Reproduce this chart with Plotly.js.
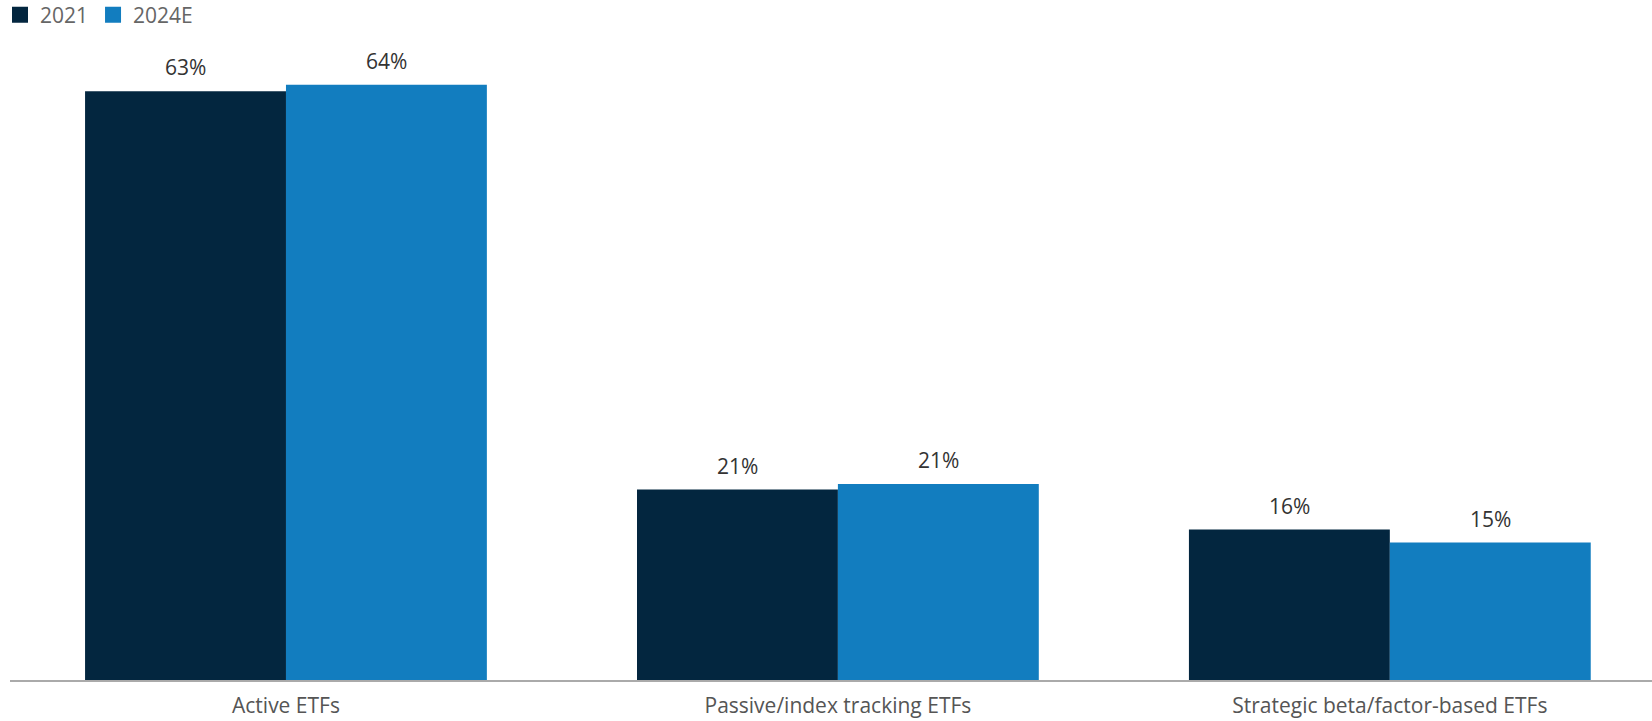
<!DOCTYPE html>
<html>
<head>
<meta charset="utf-8">
<script src="https://cdn.plot.ly/plotly-3.0.1.min.js"></script>
<style>
  html, body { margin: 0; padding: 0; background: #fff; }
  #chart { width: 1652px; height: 721px; }
</style>
</head>
<body>
<div id="chart"></div>
<script>
const categories = ["Active ETFs", "Passive/index tracking ETFs", "Strategic beta/factor-based ETFs"];
const series2021 = [63.4, 20.5, 16.2];
const series2024E = [64.1, 21.1, 14.8];
const seriesNames = ["2021", "2024E"];
const seriesColors = ["#03263f", "#127dbf"];

const allSeries = [series2021, series2024E];

const traces = [];
allSeries.forEach((vals, i) => {
  traces.push({
    type: "bar",
    name: seriesNames[i],
    x: categories,
    y: vals,
    marker: { color: seriesColors[i] },
    showlegend: false,
    hoverinfo: "skip"
  });
});
// legend entries (larger square swatches)
allSeries.forEach((vals, i) => {
  traces.push({
    type: "scatter",
    mode: "markers",
    name: seriesNames[i],
    x: [categories[0]],
    y: [null],
    marker: { color: seriesColors[i], symbol: "square", size: 16 },
    showlegend: true,
    hoverinfo: "skip"
  });
});

const BAR_OFFSET = 100.4;
const annotations = [];
allSeries.forEach((vals, i) => {
  vals.forEach((v, j) => {
    annotations.push({
      x: categories[j],
      y: v,
      xref: "x",
      yref: "y",
      xshift: i === 0 ? -BAR_OFFSET : BAR_OFFSET,
      yshift: 8,
      yanchor: "bottom",
      xanchor: "center",
      showarrow: false,
      text: Math.round(v) + "%",
      font: { family: "Open Sans", size: 21, color: "#333333" }
    });
  });
});

const layout = {
  width: 1652,
  height: 721,
  margin: { l: 10, r: 0, t: 48, b: 41, autoexpand: false },
  paper_bgcolor: "#ffffff",
  plot_bgcolor: "#ffffff",
  font: { family: "Open Sans", size: 21, color: "#555555" },
  barmode: "group",
  bargap: 0.272,
  bargroupgap: 0,
  showlegend: true,
  legend: {
    orientation: "h",
    x: 0, xref: "container", xanchor: "left",
    y: 1 + 33 / 632, yref: "paper", yanchor: "middle",
    font: { family: "Open Sans", size: 21, color: "#666666" },
    itemwidth: 30,
    bgcolor: "rgba(0,0,0,0)"
  },
  annotations: annotations,
  xaxis: {
    type: "category",
    range: [-0.5, 2.475],
    showline: true,
    linecolor: "#aaaaaa",
    linewidth: 2,
    ticks: "",
    showgrid: false,
    zeroline: false,
    automargin: false,
    tickfont: { family: "Open Sans", size: 21, color: "#555555" },
    ticklabelstandoff: 6
  },
  yaxis: {
    range: [0, 68.05],
    showgrid: false,
    zeroline: false,
    showticklabels: false,
    automargin: false,
    ticks: "",
    showline: false
  }
};

Plotly.newPlot("chart", traces, layout, { displayModeBar: false, staticPlot: true });
</script>
</body>
</html>
